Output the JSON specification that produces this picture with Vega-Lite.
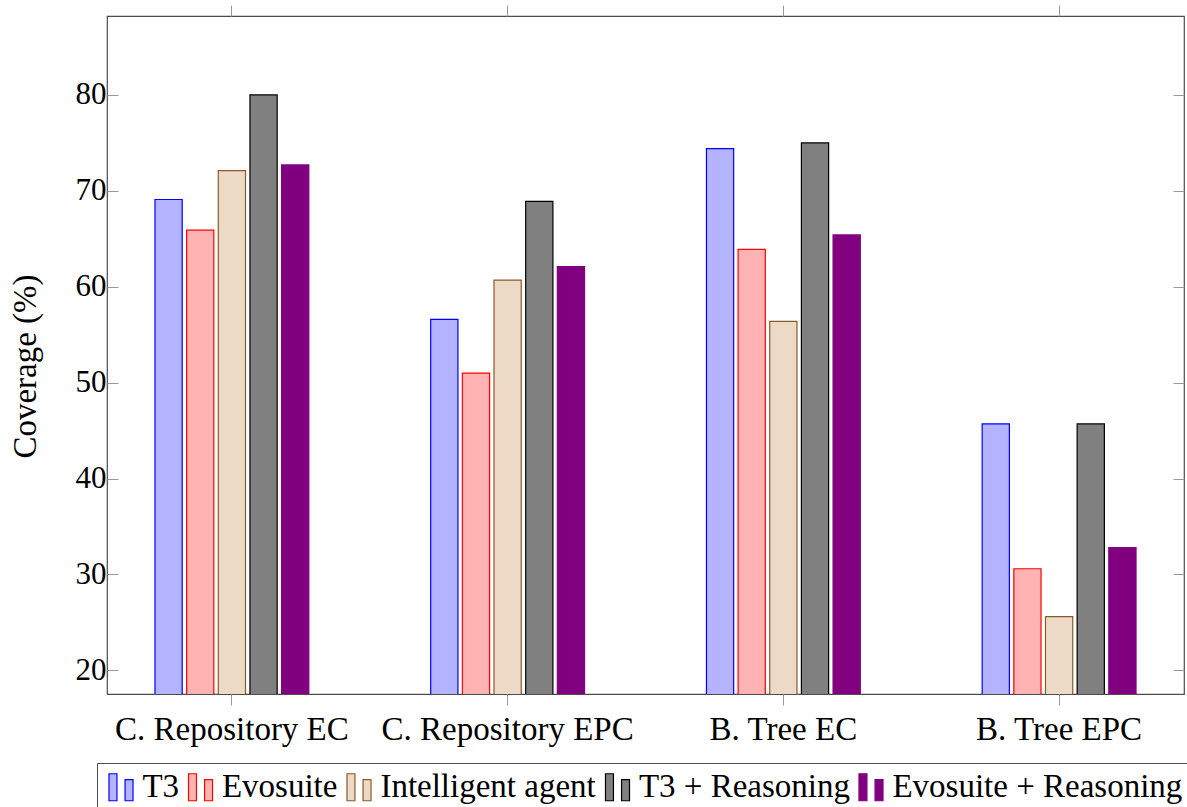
{
  "$schema": "https://vega.github.io/schema/vega-lite/v6.json",
  "width": 1077,
  "height": 678,
  "autosize": {"type": "none"},
  "padding": {"left": 107, "top": 16, "right": 3, "bottom": 113},
  "config": {
    "view": {"stroke": "#4d4d4d", "strokeWidth": 1.2},
    "font": "Liberation Serif"
  },
  "data": {
    "values": [
      {"dataset": "C. Repository EC", "method": "T3", "coverage": 69.1},
      {"dataset": "C. Repository EC", "method": "Evosuite", "coverage": 65.9},
      {"dataset": "C. Repository EC", "method": "Intelligent agent", "coverage": 72.1},
      {"dataset": "C. Repository EC", "method": "T3 + Reasoning", "coverage": 80.0},
      {"dataset": "C. Repository EC", "method": "Evosuite + Reasoning", "coverage": 72.7},
      {"dataset": "C. Repository EPC", "method": "T3", "coverage": 56.6},
      {"dataset": "C. Repository EPC", "method": "Evosuite", "coverage": 51.0},
      {"dataset": "C. Repository EPC", "method": "Intelligent agent", "coverage": 60.7},
      {"dataset": "C. Repository EPC", "method": "T3 + Reasoning", "coverage": 68.9},
      {"dataset": "C. Repository EPC", "method": "Evosuite + Reasoning", "coverage": 62.1},
      {"dataset": "B. Tree EC", "method": "T3", "coverage": 74.4},
      {"dataset": "B. Tree EC", "method": "Evosuite", "coverage": 63.9},
      {"dataset": "B. Tree EC", "method": "Intelligent agent", "coverage": 56.4},
      {"dataset": "B. Tree EC", "method": "T3 + Reasoning", "coverage": 75.0},
      {"dataset": "B. Tree EC", "method": "Evosuite + Reasoning", "coverage": 65.4},
      {"dataset": "B. Tree EPC", "method": "T3", "coverage": 45.7},
      {"dataset": "B. Tree EPC", "method": "Evosuite", "coverage": 30.6},
      {"dataset": "B. Tree EPC", "method": "Intelligent agent", "coverage": 25.6},
      {"dataset": "B. Tree EPC", "method": "T3 + Reasoning", "coverage": 45.7},
      {"dataset": "B. Tree EPC", "method": "Evosuite + Reasoning", "coverage": 32.8}
    ]
  },
  "resolve": {"axis": {"x": "independent", "y": "independent"}},
  "layer": [
    {
      "mark": {"type": "bar", "strokeWidth": 1.2, "clip": true},
      "encoding": {
        "x": {
          "field": "dataset", "type": "nominal",
          "sort": ["C. Repository EC", "C. Repository EPC", "B. Tree EC", "B. Tree EPC"],
          "scale": {"paddingInner": 0.442, "paddingOuter": 0.174},
          "axis": {
            "title": null, "domain": false, "labelAngle": 0,
            "tickSize": 11, "tickColor": "#999999", "tickWidth": 1,
            "labelFontSize": 33, "labelColor": "#000000", "labelFont": "Liberation Serif",
            "labelBaseline": "alphabetic", "labelPadding": 34,
            "labelLimit": 500, "labelOverlap": false
          }
        },
        "xOffset": {
          "field": "method", "type": "nominal",
          "sort": ["T3", "Evosuite", "Intelligent agent", "T3 + Reasoning", "Evosuite + Reasoning"],
          "scale": {"paddingInner": 0.14, "paddingOuter": 0}
        },
        "y": {
          "field": "coverage", "type": "quantitative",
          "scale": {"domain": [17.54, 88.23], "zero": false, "nice": false},
          "axis": {
            "title": "Coverage (%)", "domain": false, "grid": false,
            "values": [20, 30, 40, 50, 60, 70, 80],
            "tickSize": -11, "tickColor": "#999999", "tickWidth": 1,
            "labelFontSize": 31, "labelColor": "#000000", "labelFont": "Liberation Serif",
            "labelPadding": 12,
            "titleFont": "Liberation Serif", "titleFontSize": 33, "titleFontWeight": "normal",
            "titleColor": "#000000", "titleX": -72, "titleY": 350,
            "titleAngle": 270, "titleAlign": "center", "titleBaseline": "alphabetic"
          }
        },
        "fill": {
          "field": "method", "type": "nominal",
          "scale": {
            "domain": ["T3", "Evosuite", "Intelligent agent", "T3 + Reasoning", "Evosuite + Reasoning"],
            "range": ["#b3b3ff", "#ffb3b3", "#ecd9c6", "#808080", "#800080"]
          },
          "legend": {
            "title": null, "orient": "none", "direction": "horizontal", "columns": 5,
            "legendX": -10, "legendY": 747,
            "symbolType": "M-0.89,-1H-0.3V1H-0.89Z M0.3,-0.56H0.89V1H0.3Z",
            "symbolSize": 729, "symbolStrokeWidth": 1.2, "symbolOpacity": 1,
            "labelFont": "Liberation Serif", "labelFontSize": 33, "labelColor": "#000000",
            "labelOffset": 4.9, "columnPadding": 4.5, "padding": 7.5,
            "strokeColor": "#4d4d4d", "labelLimit": 500
          }
        },
        "stroke": {
          "field": "method", "type": "nominal",
          "scale": {
            "domain": ["T3", "Evosuite", "Intelligent agent", "T3 + Reasoning", "Evosuite + Reasoning"],
            "range": ["#0000ff", "#ff0000", "#8b5a2b", "#000000", "#800080"]
          },
          "legend": {
            "title": null, "orient": "none", "direction": "horizontal", "columns": 5,
            "legendX": -10, "legendY": 747,
            "symbolType": "M-0.89,-1H-0.3V1H-0.89Z M0.3,-0.56H0.89V1H0.3Z",
            "symbolSize": 729, "symbolStrokeWidth": 1.2, "symbolOpacity": 1,
            "labelFont": "Liberation Serif", "labelFontSize": 33, "labelColor": "#000000",
            "labelOffset": 4.9, "columnPadding": 4.5, "padding": 7.5,
            "strokeColor": "#4d4d4d", "labelLimit": 500
          }
        }
      }
    },
    {
      "mark": {"type": "bar", "opacity": 0, "clip": true},
      "encoding": {
        "x": {
          "field": "dataset", "type": "nominal",
          "sort": ["C. Repository EC", "C. Repository EPC", "B. Tree EC", "B. Tree EPC"],
          "axis": {
            "orient": "top", "title": null, "domain": false, "labels": false,
            "tickSize": 11, "tickColor": "#999999", "tickWidth": 1
          }
        },
        "y": {
          "field": "coverage", "type": "quantitative",
          "axis": {
            "orient": "right", "title": null, "domain": false, "labels": false, "grid": false,
            "values": [20, 30, 40, 50, 60, 70, 80],
            "tickSize": -11, "tickColor": "#999999", "tickWidth": 1
          }
        }
      }
    }
  ]
}
